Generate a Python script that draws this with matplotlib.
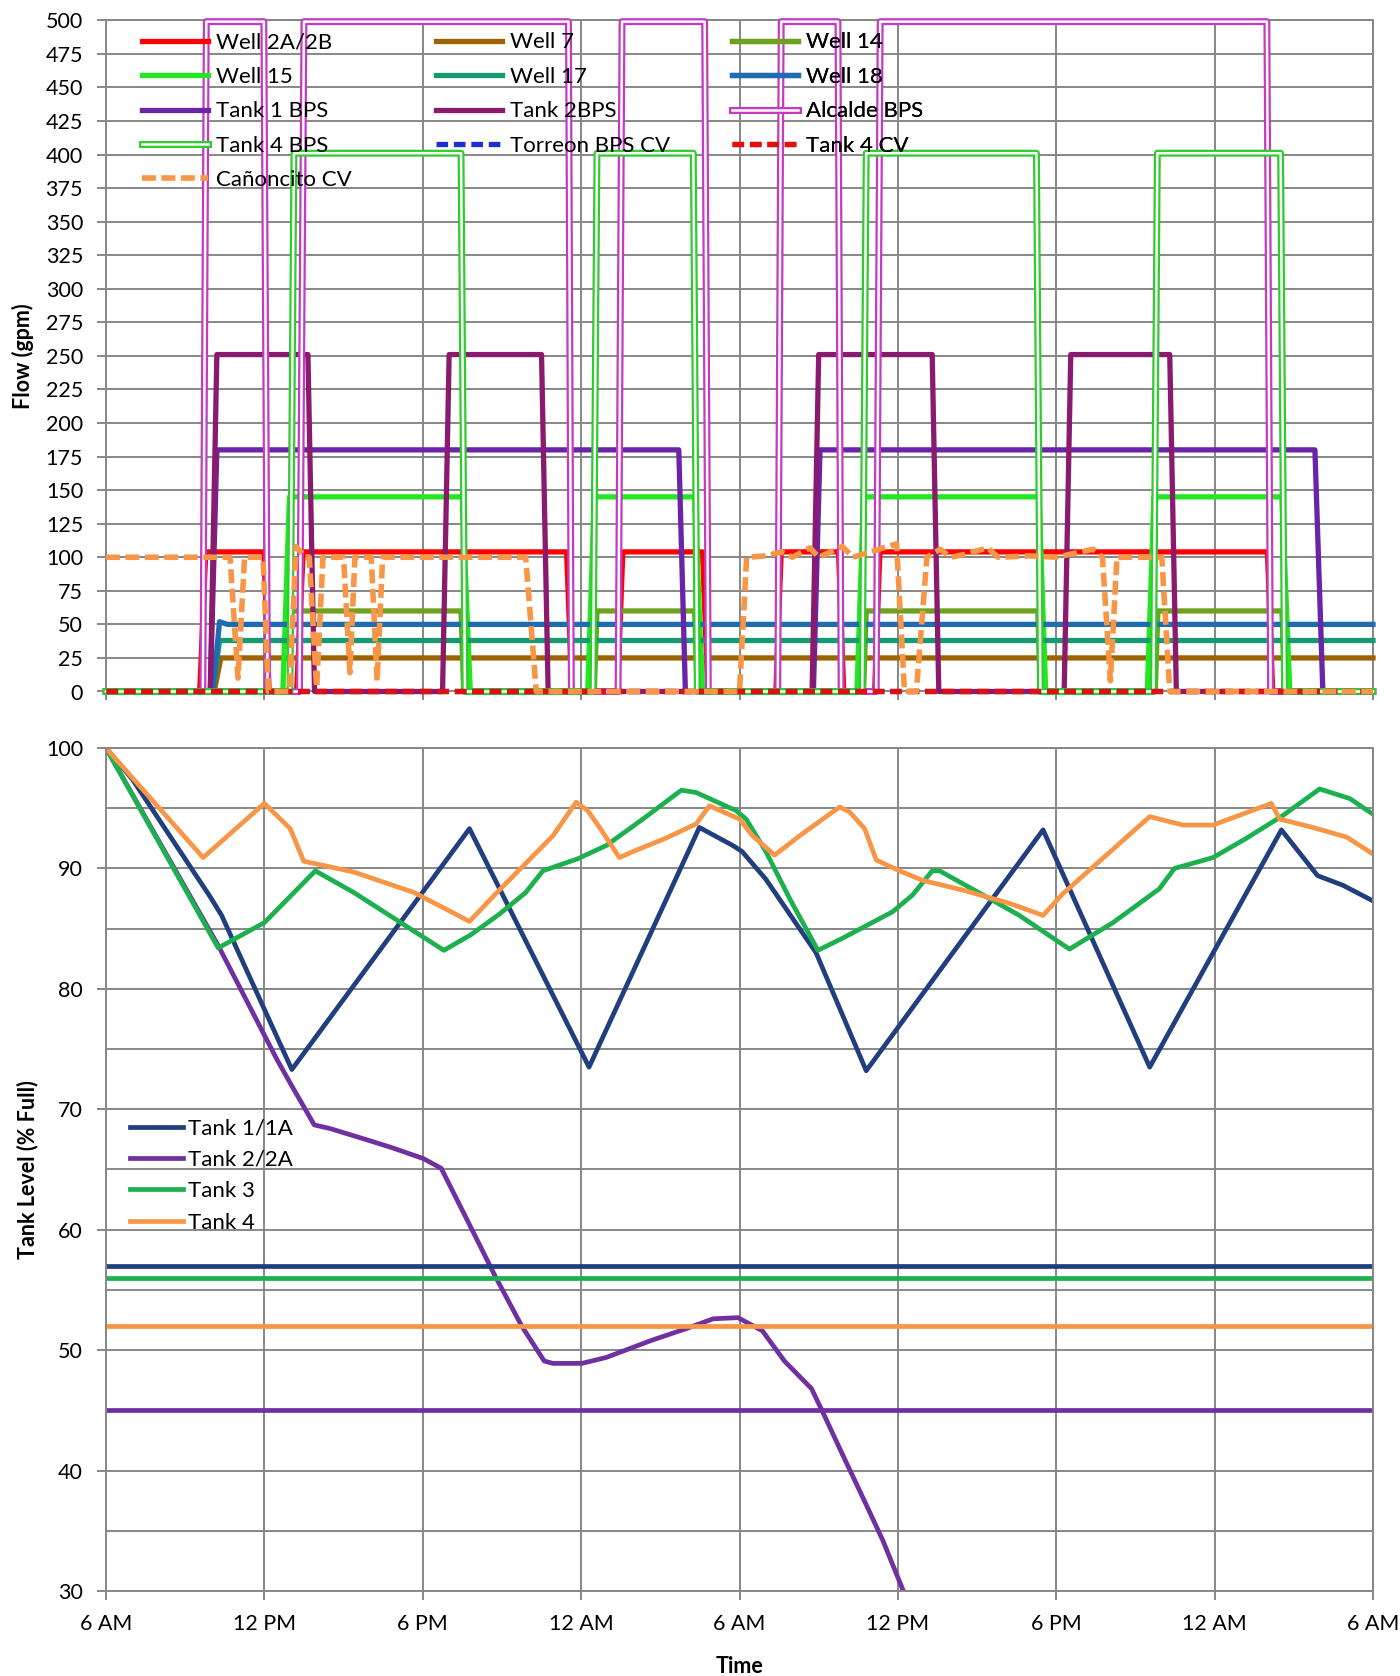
import matplotlib
matplotlib.use("Agg")
import matplotlib.pyplot as plt
import matplotlib.patheffects as pe
from matplotlib.ticker import MultipleLocator

plt.rcParams["font.family"] = ["Lato", "DejaVu Sans"]

HOURS = 48  # two days, starting 6 AM
time_ticks = [0, 6, 12, 18, 24, 30, 36, 42, 48]
time_labels = ["6 AM", "12 PM", "6 PM", "12 AM", "6 AM", "12 PM", "6 PM", "12 AM", "6 AM"]

# ---------------- flow data (gpm) ----------------
# on/off cycles: (ramp-up start, ramp-up end, ramp-down start, ramp-down end) in hours
well_2a2b_edges = [(3.55, 3.78, 5.98, 6.18), (7.22, 7.47, 17.45, 17.65), (19.38, 19.58, 22.6, 22.8),
                   (25.38, 25.58, 27.75, 27.95), (29.12, 29.32, 44.0, 44.2)]
well_2a2b_flow = 104
well_7_t = [0, 4.1, 4.35, 48]
well_7_v = [0, 0, 25, 25]
well_14_edges = [(6.95, 7.05, 13.45, 13.55), (18.5, 18.6, 22.3, 22.4),
                 (28.7, 28.8, 35.3, 35.4), (39.75, 39.85, 44.55, 44.65)]
well_14_flow = 60
well_15_edges = [(6.7, 6.95, 13.5, 13.8), (18.25, 18.5, 22.3, 22.6),
                 (28.45, 28.7, 35.35, 35.6), (39.45, 39.7, 44.55, 44.85)]
well_15_flow = 145
well_17_t = [0, 4.05, 4.3, 48]
well_17_v = [0, 0, 38, 38]
well_18_t = [0, 4.05, 4.3, 4.6, 48]
well_18_v = [0, 0, 52, 50, 50]
tank1_bps_edges = [(3.95, 4.2, 21.7, 21.95), (26.8, 27.05, 45.8, 46.1)]
tank1_bps_flow = 180
tank2_bps_edges = [(3.95, 4.2, 7.65, 7.9), (12.75, 13.0, 16.5, 16.75),
                   (26.75, 27.0, 31.3, 31.55), (36.3, 36.55, 40.3, 40.55)]
tank2_bps_flow = 251
alcalde_bps_edges = [(3.67, 3.8, 5.98, 6.12), (7.33, 7.5, 17.52, 17.63), (19.4, 19.55, 22.68, 22.82),
                     (25.45, 25.58, 27.73, 27.85), (29.18, 29.33, 43.98, 44.12)]
alcalde_bps_flow = 499
tank4_bps_edges = [(6.97, 7.12, 13.45, 13.6), (18.45, 18.6, 22.25, 22.4),
                   (28.65, 28.8, 35.25, 35.4), (39.68, 39.83, 44.5, 44.65)]
tank4_bps_flow = 401
torreon_cv_t = [0, 48]
torreon_cv_v = [0, 0]
tank4_cv_t = [0, 48]
tank4_cv_v = [0, 0]
canoncito_cv_t = [0, 4.7, 5.0, 5.25, 5.95, 6.15, 6.95, 7.2, 7.55, 7.7, 7.98, 8.22, 9.0, 9.24, 9.43,
                  10.05, 10.27, 10.48, 15.9, 16.3, 24.0, 24.27, 25.0, 25.6, 26.0, 26.67, 27.0, 27.9,
                  28.3, 29.95, 30.25, 30.7, 31.1, 31.6, 32.0, 32.5, 33.4, 33.8, 35.0, 36.0, 37.4,
                  37.75, 38.05, 38.3, 40.0, 40.3, 48]
canoncito_cv_v = [100, 100, 10, 100, 100, 0, 0, 108, 100, 100, 3, 100, 100, 14, 100,
                  100, 8, 100, 100, 0, 0, 100, 101, 104, 100, 107, 100, 108,
                  100, 110, 0, 0, 100, 106, 100, 102, 107, 100, 101, 100, 106,
                  100, 8, 100, 100, 0, 0]

# ---------------- tank level data (% full) ----------------
tank1_t = [0, 1.0, 3.93, 4.38, 7.04, 13.77, 18.3, 22.48, 23.75, 24.1, 25.0, 26.9, 28.8, 35.5,
           39.54, 44.53, 45.9, 46.86, 48]
tank1_v = [100, 97.4, 87.7, 86.1, 73.3, 93.3, 73.5, 93.4, 91.9, 91.4, 89.1, 83.0, 73.2, 93.2,
           73.5, 93.2, 89.4, 88.6, 87.3]
tank2_t = [0, 4.25, 6.46, 7.05, 7.89, 8.49, 9.83, 10.85, 12.03, 12.7, 13.89, 14.73, 15.75, 16.6,
           16.93, 18.03, 18.96, 20.65, 22.0, 23.0, 23.94, 24.87, 25.7, 26.73, 27.23, 27.91, 28.75,
           29.43, 30.19, 30.4]
tank2_v = [100, 83.6, 74.2, 71.9, 68.7, 68.4, 67.5, 66.8, 65.9, 65.1, 59.9, 56.2, 52.0, 49.1,
           48.9, 48.9, 49.4, 50.8, 51.8, 52.6, 52.7, 51.6, 49.1, 46.8, 44.5, 41.3, 37.4,
           34.2, 30.1, 29.1]
tank3_t = [0, 4.25, 6.0, 7.93, 9.39, 12.8, 13.83, 14.9, 15.9, 16.55, 17.87, 18.95, 20.34, 21.8,
           22.36, 23.87, 24.25, 25.0, 25.9, 26.97, 27.9, 29.8, 30.56, 31.3, 31.58, 33.47, 34.6,
           36.5, 38.15, 39.9, 40.48, 41.94, 43.2, 44.59, 45.98, 47.12, 48]
tank3_v = [100, 83.4, 85.5, 89.8, 88.0, 83.2, 84.5, 86.2, 88.0, 89.8, 90.8, 91.9, 94.1, 96.5,
           96.3, 94.8, 94.1, 91.4, 87.5, 83.2, 84.2, 86.4, 87.8, 89.8, 89.8, 87.5, 86.1,
           83.3, 85.5, 88.3, 90.0, 90.9, 92.5, 94.4, 96.6, 95.8, 94.5]
tank4_t = [0, 3.68, 6.0, 6.98, 7.49, 9.39, 11.67, 13.77, 14.9, 16.93, 17.81, 18.25, 18.7, 19.45,
           19.96, 21.2, 22.36, 22.86, 24.0, 24.5, 25.33, 26.27, 27.79, 28.17, 28.74, 29.18, 30.06,
           30.95, 32.46, 34.23, 35.5, 36.25, 39.54, 40.8, 41.94, 42.8, 44.15, 44.46, 45.73, 47.0, 48]
tank4_v = [100, 90.9, 95.4, 93.3, 90.6, 89.7, 88.0, 85.6, 88.2, 92.7, 95.5, 94.8, 93.4, 90.9,
           91.4, 92.5, 93.7, 95.2, 94.1, 92.7, 91.1, 92.7, 95.1, 94.7, 93.3, 90.7, 89.8,
           89.0, 88.2, 87.1, 86.1, 87.9, 94.3, 93.6, 93.6, 94.3, 95.4, 94.1, 93.4, 92.6, 91.2]
# reference levels drawn across the whole period
tank1_ref = 57
tank2_ref = 45
tank3_ref = 56
tank4_ref = 52


def pulse_series(edges, level):
    t, v = [0.0], [0.0]
    for a, b, c, d in edges:
        t += [a, b, c, d]
        v += [0, level, level, 0]
    t.append(HOURS)
    v.append(0)
    return t, v


GRID = "#878787"
TICK_FS = 15.5
LEG_FS = 16

fig = plt.figure(figsize=(14, 16.76), dpi=100)
W, H = 1400, 1676
ax1 = fig.add_axes([106 / W, 1 - 691.5 / H, 1267 / W, (691.5 - 20.3) / H])
ax2 = fig.add_axes([106 / W, 1 - 1591 / H, 1267 / W, (1591 - 748) / H])


def style_axes(ax):
    ax.set_xlim(0, HOURS)
    ax.set_xticks(time_ticks)
    ax.grid(True, which="both", color=GRID, lw=1.4)
    ax.set_axisbelow(True)
    for s in ax.spines.values():
        s.set_color(GRID)
        s.set_linewidth(1.4)
    ax.tick_params(which="both", direction="out", length=6.5, width=1.4, color=GRID,
                   labelsize=TICK_FS, pad=10)


# ---------------- top: flows ----------------
style_axes(ax1)
ax1.set_ylim(0, 500)
ax1.yaxis.set_major_locator(MultipleLocator(25))
ax1.tick_params(axis="x", labelbottom=False)

series = [
    ("Well 2A/2B", *pulse_series(well_2a2b_edges, well_2a2b_flow), "#FF0000", "solid"),
    ("Well 7", well_7_t, well_7_v, "#9C6300", "solid"),
    ("Well 14", *pulse_series(well_14_edges, well_14_flow), "#70A020", "solid"),
    ("Well 15", *pulse_series(well_15_edges, well_15_flow), "#22E822", "solid"),
    ("Well 17", well_17_t, well_17_v, "#169A72", "solid"),
    ("Well 18", well_18_t, well_18_v, "#1F6CB0", "solid"),
    ("Tank 1 BPS", *pulse_series(tank1_bps_edges, tank1_bps_flow), "#6B24A8", "solid"),
    ("Tank 2BPS", *pulse_series(tank2_bps_edges, tank2_bps_flow), "#8A1A6E", "solid"),
    ("Alcalde BPS", *pulse_series(alcalde_bps_edges, alcalde_bps_flow), "#C23BC2", "double"),
    ("Tank 4 BPS", *pulse_series(tank4_bps_edges, tank4_bps_flow), "#2ECC2E", "double"),
    ("Torreon BPS CV", torreon_cv_t, torreon_cv_v, "#1E2FD0", "dash"),
    ("Tank 4 CV", tank4_cv_t, tank4_cv_v, "#E01010", "dash"),
    ("Cañoncito CV", canoncito_cv_t, canoncito_cv_v, "#F79646", "dash_wide"),
]

handles = {}
for label, t, v, color, kind in series:
    common = dict(label=label, clip_on=False, zorder=3)
    if kind == "double":
        ln, = ax1.plot(t, v, color="white", lw=1.8, **common,
                       path_effects=[pe.Stroke(linewidth=5.0, foreground=color), pe.Normal()])
    elif kind == "dash":
        ln, = ax1.plot(t, v, color=color, lw=3.8, ls=(0, (2.2, 1.1)), **common)
    elif kind == "dash_wide":
        ln, = ax1.plot(t, v, color=color, lw=4.0, ls=(0, (2.5, 1.0)), **common)
    else:
        ln, = ax1.plot(t, v, color=color, lw=3.8, **common)
    handles[label] = ln

legend_cols = [
    (["Well 2A/2B", "Well 15", "Tank 1 BPS", "Tank 4 BPS", "Cañoncito CV"], 142),
    (["Well 7", "Well 17", "Tank 2BPS", "Torreon BPS CV"], 436),
    (["Well 14", "Well 18", "Alcalde BPS", "Tank 4 CV"], 732),
]
for names, xpx in legend_cols:
    leg = ax1.legend([handles[n] for n in names], names, loc="upper left",
                     bbox_to_anchor=(xpx / W, 1 - 32.5 / H), bbox_transform=fig.transFigure,
                     frameon=False, borderpad=0, borderaxespad=0, fontsize=LEG_FS,
                     handlelength=2.97, handletextpad=0.36, labelspacing=0.65)
    leg.set_zorder(5)
    ax1.add_artist(leg)

ax1.set_ylabel("Flow (gpm)", fontsize=TICK_FS, fontweight="bold")
ax1.yaxis.set_label_coords(-0.0565, 0.5)

# ---------------- bottom: tank levels ----------------
style_axes(ax2)
ax2.set_ylim(30, 100)
ax2.yaxis.set_major_locator(MultipleLocator(10))
ax2.yaxis.set_minor_locator(MultipleLocator(5))
ax2.tick_params(axis="y", which="minor", length=0)
ax2.set_xticklabels(time_labels)

tank_colors = {"Tank 1/1A": "#213F7E", "Tank 2/2A": "#7030A0", "Tank 3": "#1DB04F", "Tank 4": "#F79646"}
ax2.plot(tank1_t, tank1_v, color=tank_colors["Tank 1/1A"], lw=3.4, label="Tank 1/1A")
ax2.plot(tank2_t, tank2_v, color=tank_colors["Tank 2/2A"], lw=3.4, label="Tank 2/2A")
ax2.plot(tank3_t, tank3_v, color=tank_colors["Tank 3"], lw=3.4, label="Tank 3")
ax2.plot(tank4_t, tank4_v, color=tank_colors["Tank 4"], lw=3.4, label="Tank 4")
for level, name in [(tank1_ref, "Tank 1/1A"), (tank3_ref, "Tank 3"), (tank4_ref, "Tank 4"), (tank2_ref, "Tank 2/2A")]:
    ax2.axhline(level, color=tank_colors[name], lw=3.4)

ax2.legend(loc="upper left", bbox_to_anchor=(130 / W, 1 - 1118.5 / H), bbox_transform=fig.transFigure,
           frameon=False, borderpad=0, borderaxespad=0, fontsize=LEG_FS,
           handlelength=2.4, handletextpad=0.2, labelspacing=0.51)

ax2.set_ylabel("Tank Level (% Full)", fontsize=TICK_FS, fontweight="bold")
ax2.yaxis.set_label_coords(-0.053, 0.5)
ax2.set_xlabel("Time", fontsize=TICK_FS, fontweight="bold")
ax2.xaxis.set_label_coords(0.5, -0.077)

fig.savefig("out.png", dpi=100)
